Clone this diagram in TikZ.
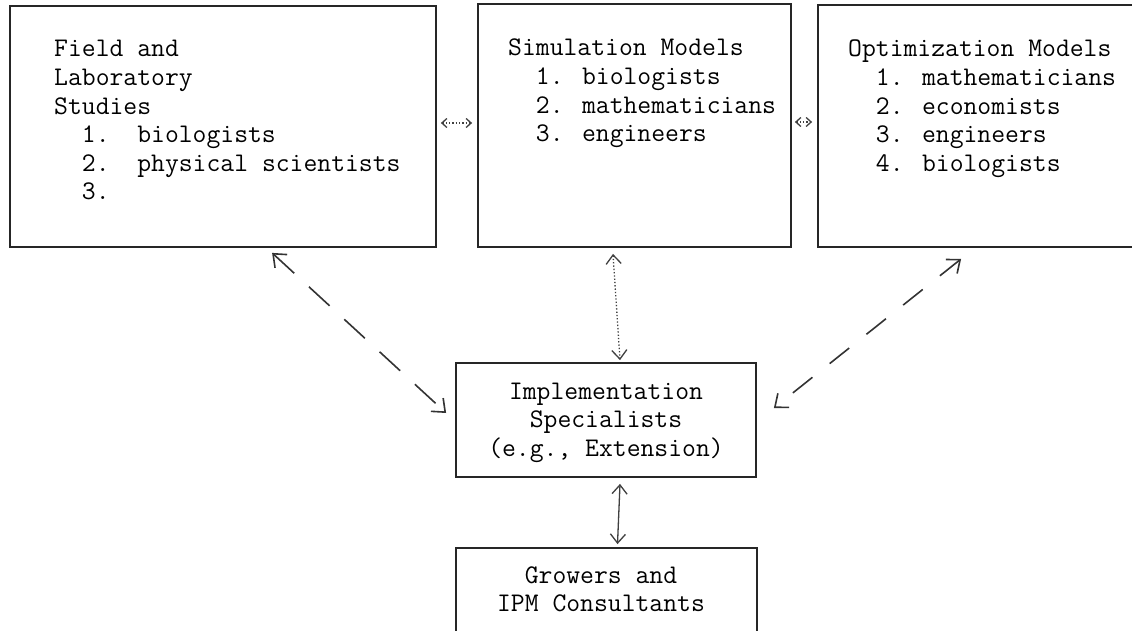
\documentclass[tikz,border=0pt]{standalone}
\usetikzlibrary{arrows.meta,calc}
\newcommand\twfont{\fontsize{26.9}{28.6}\selectfont\ttfamily}
\begin{document}
\begin{tikzpicture}[x=1pt,y=-1pt,
  box/.style={draw=black!85,line width=1.8pt,inner sep=0pt},
  txt/.style={inner sep=0pt,font=\twfont,text=black},
  conn/.style={draw=black!80,line width=1.6pt},
  longdash/.style={dash pattern=on 28pt off 20pt},
  middash/.style={dash pattern=on 25pt off 22pt},
  fine/.style={draw=black!75,line width=1.3pt},
  bigtips/.style={{Straight Barb[length=11pt,width=18pt]}-{Straight Barb[length=11pt,width=18pt]}},
  midtips/.style={{Straight Barb[length=9pt,width=15pt]}-{Straight Barb[length=9pt,width=15pt]}},
  smalltips/.style={{Straight Barb[length=5pt,width=9pt]}-{Straight Barb[length=5pt,width=9pt]}}
]
\useasboundingbox (0,0) rectangle (1132,631);
\clip (0,0) rectangle (1132,631);
\fill[white] (0,0) rectangle (1132,631);

% boxes
\node[box,minimum width=426pt,minimum height=241pt] (field) at (223,126.5) {};
\node[box,minimum width=313pt,minimum height=243pt] (sim) at (634.5,125.5) {};
\node[box,minimum width=350pt,minimum height=242pt] (opt) at (993,126) {};
\node[box,minimum width=300pt,minimum height=114pt] (impl) at (606,420) {};
\node[box,minimum width=301pt,minimum height=160pt] (grow) at (606.5,628) {};

% texts
\node[txt,anchor=base west] (fieldtxt) at (54,57)
  {\begin{tabular}[t]{@{}l@{}}Field and\\Laboratory\\Studies\\
   \ \ 1.\ \ biologists\\\ \ 2.\ \ physical scientists\\\ \ 3.\end{tabular}};
\node[txt,anchor=base west] (simtxt) at (508,56)
  {\begin{tabular}[t]{@{}l@{}}Simulation Models\\
   \ \ 1. biologists\\\ \ 2. mathematicians\\\ \ 3. engineers\end{tabular}};
\node[txt,anchor=base west] (opttxt) at (848,57)
  {\begin{tabular}[t]{@{}l@{}}Optimization Models\\
   \ \ 1. mathematicians\\\ \ 2. economists\\\ \ 3. engineers\\\ \ 4. biologists\end{tabular}};
\node[txt,anchor=base] (impltxt) at (606,399)
  {\begin{tabular}[t]{@{}c@{}}Implementation\\Specialists\\(e.g., Extension)\end{tabular}};
\node[txt,anchor=base] (growtxt) at (601,583)
  {\begin{tabular}[t]{@{}c@{}}Growers and\\IPM Consultants\end{tabular}};

% connectors
\draw[conn,longdash,bigtips] ($(field.south west)+(263,5)$) -- ($(impl.west)+(-9,-7)$);
\draw[conn,middash,bigtips] ($(opt.south west)+(144,11)$) -- ($(impl.east)+(17,-12)$);
\draw[fine,dotted,midtips] ($(sim.south)+(-21.5,6)$) -- ($(impl.north)+(14,-2)$);
\draw[fine,midtips] ($(impl.south)+(14,6)$) -- ($(grow.north)+(11,-3)$);
\draw[fine,dotted,smalltips] ($(field.east)+(4,-3.5)$) -- ($(sim.west)+(-5,-2.5)$);
\draw[fine,dotted,smalltips] ($(sim.east)+(3,-3.5)$) -- ($(opt.west)+(-5,-4)$);
\end{tikzpicture}
\end{document}
